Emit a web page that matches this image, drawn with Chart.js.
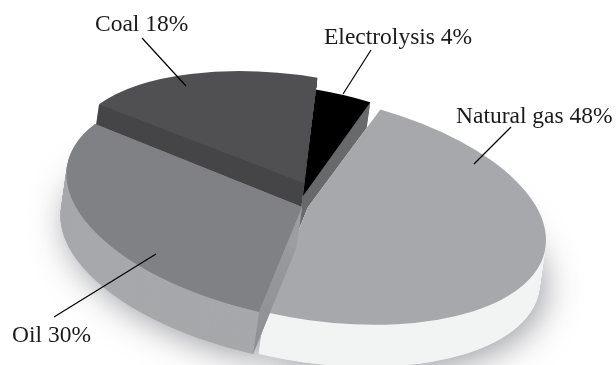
<!DOCTYPE html>
<html>
<head>
<meta charset="utf-8">
<style>
  html, body { margin: 0; padding: 0; background: #fff; }
  #chart { display: block; }
</style>
<script src="https://cdn.jsdelivr.net/npm/chart.js@4"></script>
</head>
<body>
<canvas id="chart" width="616" height="365"></canvas>
<script>
const SOURCES = ['Natural gas', 'Oil', 'Coal', 'Electrolysis'];
const SHARES = [48, 30, 18, 4];
const TOP_COLORS = ['#a7a8ab', '#808184', '#505052', '#000000'];
const RIM_COLORS = ['#f2f3f3', '#a7a8ab', '#505052', '#68696b'];
const CUT_COLORS = ['#f2f3f3', ['#9d9ea1', '#8e8f92'], '#454547', '#68696b'];

// Back slices first so the nearer ones overlap them.
const DRAW_ORDER = [3, 2, 0, 1];

// Where each slice's tip lands on the page, and how much it shrinks with distance.
const TIPS = [[308, 207], [302, 207], [304, 183], [303, 196]];
const SHRINK = [[1, 1], [0.99, 1], [0.98, 0.95], [0.93, 0.96]];

// Flattening of the disc, and the drop from top face to bottom face.
const TILT = { xx: 238, yx: 33, yy: 113 };
const DROP = { x: -6, y: 42 };

const LABEL_POS = [[456, 123], [12, 342], [95, 31], [324, 44]];
const LEADERS = [
  [[511, 127], [474, 164]],
  [[54, 317], [156, 254]],
  [[142, 38], [186, 86]],
  [[371, 50], [343, 94]],
];

function tiltTo(ctx, arc, tip, i) {
  const r = arc.outerRadius;
  const [sx, sy] = SHRINK[i];
  ctx.translate(tip[0], tip[1]);
  ctx.transform(sx * TILT.xx / r, sy * TILT.yx / r, 0, sy * TILT.yy / r, 0, 0);
  ctx.translate(-arc.x, -arc.y);
}

function drawArc(ctx, arc, color) {
  const saved = arc.options;
  arc.options = Object.assign({}, saved, { backgroundColor: color });
  arc.draw(ctx);
  arc.options = saved;
}

// Page position of a rim point at the given arc angle.
function rimPoint(tip, angle, i) {
  const [sx, sy] = SHRINK[i];
  const u = Math.cos(angle);
  const v = Math.sin(angle);
  return [tip[0] + sx * TILT.xx * u, tip[1] + sy * (TILT.yx * u + TILT.yy * v)];
}

function drawCutFace(ctx, tip, angle, i) {
  const rim = rimPoint(tip, angle, i);
  const color = CUT_COLORS[i];
  if (Array.isArray(color)) {
    const grad = ctx.createLinearGradient(tip[0], tip[1], rim[0] + DROP.x, rim[1] + DROP.y);
    grad.addColorStop(0, color[0]);
    grad.addColorStop(1, color[1]);
    ctx.fillStyle = grad;
  } else {
    ctx.fillStyle = color;
  }
  ctx.beginPath();
  ctx.moveTo(tip[0], tip[1]);
  ctx.lineTo(rim[0], rim[1]);
  ctx.lineTo(rim[0] + DROP.x, rim[1] + DROP.y);
  ctx.lineTo(tip[0] + DROP.x, tip[1] + DROP.y);
  ctx.closePath();
  ctx.fill();
}

const piePlugin = {
  id: 'tiltedPie',
  beforeDatasetsDraw(chart) {
    const ctx = chart.ctx;
    const arcs = chart.getDatasetMeta(0).data;

    // Soft shadow under the two big slices.
    [0, 1].forEach((i) => {
      ctx.save();
      ctx.shadowColor = 'rgba(60, 62, 70, 0.5)';
      ctx.shadowBlur = 34;
      ctx.shadowOffsetX = 5;
      ctx.shadowOffsetY = 6;
      tiltTo(ctx, arcs[i], [TIPS[i][0] + DROP.x, TIPS[i][1] + DROP.y], i);
      drawArc(ctx, arcs[i], RIM_COLORS[i]);
      ctx.restore();
    });

    DRAW_ORDER.forEach((i) => {
      const arc = arcs[i];
      const tip = TIPS[i];
      for (let k = DROP.y; k >= 1; k--) {
        ctx.save();
        tiltTo(ctx, arc, [tip[0] + DROP.x * k / DROP.y, tip[1] + k], i);
        drawArc(ctx, arc, RIM_COLORS[i]);
        ctx.restore();
      }
      drawCutFace(ctx, tip, arc.startAngle, i);
      drawCutFace(ctx, tip, arc.endAngle, i);
      ctx.save();
      tiltTo(ctx, arc, tip, i);
      drawArc(ctx, arc, TOP_COLORS[i]);
      ctx.restore();
    });
    return false;
  },
  afterDraw(chart) {
    const ctx = chart.ctx;
    ctx.save();
    ctx.strokeStyle = '#000';
    ctx.lineWidth = 1.2;
    LEADERS.forEach(([a, b]) => {
      ctx.beginPath();
      ctx.moveTo(a[0], a[1]);
      ctx.lineTo(b[0], b[1]);
      ctx.stroke();
    });
    ctx.fillStyle = '#1a1a1a';
    ctx.font = "23.5px 'Liberation Serif', serif";
    ctx.textBaseline = 'alphabetic';
    SOURCES.forEach((name, i) => {
      ctx.fillText(`${name} ${SHARES[i]}%`, LABEL_POS[i][0], LABEL_POS[i][1]);
    });
    ctx.restore();
  },
};

new Chart(document.getElementById('chart'), {
  type: 'pie',
  data: {
    labels: SOURCES,
    datasets: [{ data: SHARES, backgroundColor: TOP_COLORS, borderWidth: 0 }],
  },
  options: {
    responsive: false,
    animation: false,
    events: [],
    rotation: 17.7,
    plugins: { legend: { display: false }, tooltip: { enabled: false } },
  },
  plugins: [piePlugin],
});
</script>
</body>
</html>
